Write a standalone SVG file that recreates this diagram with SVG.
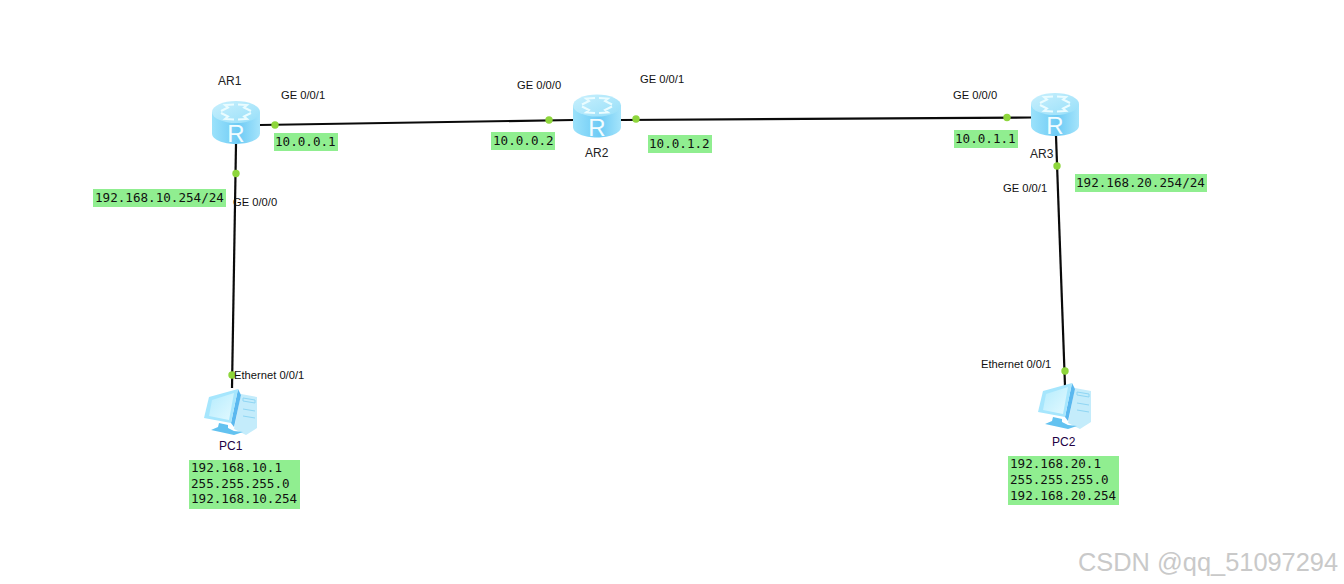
<svg xmlns="http://www.w3.org/2000/svg" width="1344" height="584" viewBox="0 0 1344 584">
<style>
.l{font-family:"Liberation Sans",Arial,sans-serif;font-size:11.2px;fill:#111}
.n{font-family:"Liberation Sans",Arial,sans-serif;font-size:12px;fill:#222}
.p{font-family:"Liberation Sans",Arial,sans-serif;font-size:12px;fill:#220044}
.m{font-family:"DejaVu Sans Mono",monospace;font-size:12.6px;fill:#111}
.b{fill:#90ee90}
.w{stroke:#0a0a0a;stroke-width:2.200;fill:none}
.d{fill:#8ed63c}
</style>
<defs>
<linearGradient id="rb" x1="0" x2="1" y1="0" y2="0"><stop offset="0" stop-color="#9be2fb"/><stop offset=".55" stop-color="#6ecbf5"/><stop offset="1" stop-color="#a5e4fb"/></linearGradient>
<linearGradient id="rt" x1="0" x2="1" y1="0" y2="1"><stop offset="0" stop-color="#c9f0fd"/><stop offset="1" stop-color="#97dff9"/></linearGradient>
<linearGradient id="sc" x1="0" x2="1" y1="0" y2="1"><stop offset="0" stop-color="#b5ecfd"/><stop offset="1" stop-color="#e2f9ff"/></linearGradient>
<g id="router">
<path d="M-24-10.500V11C-24 17-13 21.500 0 21.500S24 17 24 11V-10.500Z" fill="url(#rb)"/>
<ellipse cx="0" cy="-10.500" rx="24" ry="11" fill="url(#rt)"/>
<path d="M-2-18l-9 .5 3 2.500-7 3.500M2-18l9 .5-3 2.500 7 3.500M-2-3l-9-.5 3-2.500-7-3.500M2-3l9-.5-3-2.500 7-3.500" fill="none" stroke="#eafcff" stroke-width="2"/>
<text x="0" y="19.500" text-anchor="middle" font-family="Liberation Sans,sans-serif" font-size="24" fill="#f2fdff">R</text>
</g>
<g id="pc">
<path d="M37 3L53 6V37L42 44 30 38Z" fill="#c4ecfb"/>
<path d="M39 7L51 9V12L39 10ZM39 18L51 20M39 25L51 27" stroke="#8fd6f4" fill="none"/>
<path d="M34-2L37 4 30 36 27 32Z" fill="#5ab8ef"/>
<path d="M5 6L34-2 27 32 0 27Z" fill="#a6e6fd"/>
<path d="M8 9L30 2 25 29 5 25Z" fill="url(#sc)"/>
<path d="M15 32L24 34V37L30 40 39 41 30 44 7 39 14 36Z" fill="#63c2f0"/>
</g>
</defs>
<rect width="1344" height="584" fill="#fff"/>
<g id="connectors">
<path class="w" d="M260 125L573 120"/>
<path class="w" d="M621 120L1031 117.500"/>
<path class="w" d="M236 144L232 388"/>
<path class="w" d="M1056 136L1065 386"/>
<circle class="d" cx="275" cy="125" r="3.700"/>
<circle class="d" cx="549" cy="120" r="3.700"/>
<circle class="d" cx="636" cy="119" r="3.700"/>
<circle class="d" cx="1007" cy="117.500" r="3.700"/>
<circle class="d" cx="236" cy="173.500" r="3.700"/>
<circle class="d" cx="232" cy="375" r="3.700"/>
<circle class="d" cx="1057" cy="166" r="3.700"/>
<circle class="d" cx="1065" cy="371" r="3.700"/>
</g>
<g id="AR1"><use href="#router" x="236" y="122.500"/><text class="n" x="218" y="85">AR1</text></g>
<g id="AR2"><use href="#router" x="597" y="116"/><text class="n" x="585" y="157">AR2</text></g>
<g id="AR3"><use href="#router" x="1055" y="114.500"/><text class="n" x="1030" y="158">AR3</text></g>
<g id="PC1"><use href="#pc" x="204" y="391"/><text class="p" x="219" y="450">PC1</text></g>
<g id="PC2"><use href="#pc" x="1038" y="385"/><text class="p" x="1052" y="446">PC2</text></g>
<g id="labels">
<text class="l" x="281" y="99">GE 0/0/1</text>
<text class="l" x="517" y="89">GE 0/0/0</text>
<text class="l" x="640" y="83">GE 0/0/1</text>
<text class="l" x="953" y="99">GE 0/0/0</text>
<text class="l" x="233" y="206">GE 0/0/0</text>
<text class="l" x="1003" y="192">GE 0/0/1</text>
<text class="l" x="234" y="379">Ethernet 0/0/1</text>
<text class="l" x="981" y="368">Ethernet 0/0/1</text>
<rect class="b" x="274" y="133" width="64" height="18"/><text class="m" x="275" y="146">10.0.0.1</text>
<rect class="b" x="491" y="132" width="64" height="18"/><text class="m" x="493" y="145">10.0.0.2</text>
<rect class="b" x="648" y="135" width="64" height="18"/><text class="m" x="649" y="148">10.0.1.2</text>
<rect class="b" x="954" y="130" width="64" height="18"/><text class="m" x="955" y="143">10.0.1.1</text>
<rect class="b" x="93" y="189" width="133" height="18"/><text class="m" x="95" y="202">192.168.10.254/24</text>
<rect class="b" x="1075" y="174" width="132" height="18"/><text class="m" x="1076" y="187">192.168.20.254/24</text>
<rect class="b" x="189" y="460" width="111" height="49"/>
<text class="m" x="191" y="472">192.168.10.1</text><text class="m" x="191" y="488">255.255.255.0</text><text class="m" x="191" y="503">192.168.10.254</text>
<rect class="b" x="1008" y="456" width="111" height="49"/>
<text class="m" x="1010" y="468">192.168.20.1</text><text class="m" x="1010" y="484">255.255.255.0</text><text class="m" x="1010" y="500">192.168.20.254</text>
</g>
<text x="1078" y="571" font-family="Liberation Sans,sans-serif" font-size="25.400" fill="#c9c9c9">CSDN @qq_51097294</text>
</svg>
